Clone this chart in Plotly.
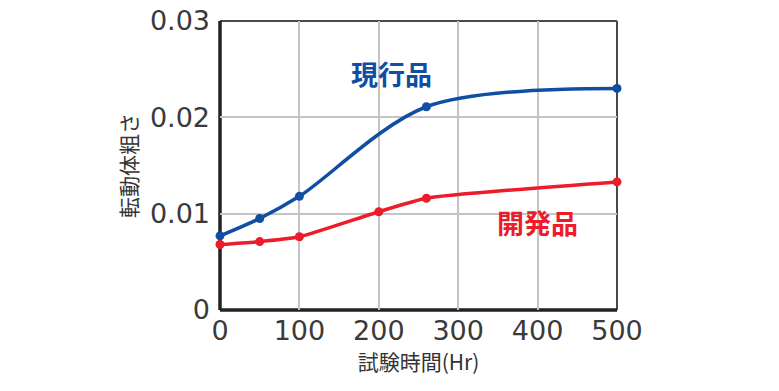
import plotly.graph_objects as go

hours_current = [0, 50, 100, 260, 500]
rough_current = [0.0077, 0.0095, 0.0118, 0.0211, 0.0230]
hours_dev = [0, 50, 100, 200, 260, 500]
rough_dev = [0.0068, 0.0071, 0.0076, 0.0102, 0.0116, 0.0133]
x_ticks = [0, 100, 200, 300, 400, 500]
y_ticks = [0, 0.01, 0.02, 0.03]
y_tick_text = ["0", "0.01", "0.02", "0.03"]

BLUE = "#0f4ea3"
RED = "#ec1c2a"

fig = go.Figure()
fig.add_trace(go.Scatter(x=hours_current, y=rough_current, mode="lines+markers",
                         line=dict(color=BLUE, width=3.5, shape="spline", smoothing=0.9),
                         marker=dict(color=BLUE, size=9), cliponaxis=False))
fig.add_trace(go.Scatter(x=hours_dev, y=rough_dev, mode="lines+markers",
                         line=dict(color=RED, width=3.5, shape="spline", smoothing=0.5),
                         marker=dict(color=RED, size=9), cliponaxis=False))

fig.add_annotation(x=216, y=0.0246, text="<b>現行品</b>", showarrow=False,
                   font=dict(family="Noto Sans CJK JP", size=27, color=BLUE))
fig.add_annotation(x=400, y=0.0091, text="<b>開発品</b>", showarrow=False,
                   font=dict(family="Noto Sans CJK JP", size=27, color=RED))

tickfont = dict(family="DejaVu Sans", size=27, color="#3a3a3a")
fig.update_xaxes(range=[0, 500], tickvals=x_ticks, ticktext=[str(v) for v in x_ticks],
                 tickfont=tickfont, showgrid=True, gridcolor="#c4c4c4", gridwidth=1.5,
                 showline=False, zeroline=False, ticks="", ticklen=0, automargin=False,
                 ticklabelstandoff=2, ticklabeloverflow="allow",
                 title=dict(text="試験時間(Hr)", standoff=2,
                            font=dict(family="Noto Sans CJK JP", size=21, color="#333333")))
fig.update_yaxes(range=[0, 0.03], tickvals=y_ticks, ticktext=y_tick_text,
                 tickfont=tickfont, showgrid=True, gridcolor="#c4c4c4", gridwidth=1.5,
                 showline=False, zeroline=False, ticks="", ticklen=0, automargin=False,
                 ticklabelstandoff=9, ticklabeloverflow="allow",
                 title=dict(text="転動体粗さ", standoff=6,
                            font=dict(family="Noto Sans CJK JP", size=21, color="#333333")))

# frame: top/right gray, left/bottom black
fig.add_shape(type="line", xref="paper", yref="paper", x0=0, x1=1, y0=1, y1=1,
              line=dict(color="#4a4a4a", width=2), layer="below")
fig.add_shape(type="line", xref="paper", yref="paper", x0=1, x1=1, y0=0, y1=1,
              line=dict(color="#4a4a4a", width=2), layer="below")
fig.add_shape(type="line", xref="paper", yref="paper", x0=0, x1=1, y0=0, y1=0,
              line=dict(color="#222222", width=3.5), layer="below")
fig.add_shape(type="line", xref="paper", yref="paper", x0=0, x1=0, y0=0, y1=1,
              line=dict(color="#222222", width=3.5), layer="below")

fig.update_layout(width=779, height=391, showlegend=False,
                  margin=dict(l=220, r=162, t=21, b=81, autoexpand=False),
                  paper_bgcolor="white", plot_bgcolor="white")
fig.write_html("out.html", config={"displayModeBar": False},
               post_script="document.body.style.margin='0';")
